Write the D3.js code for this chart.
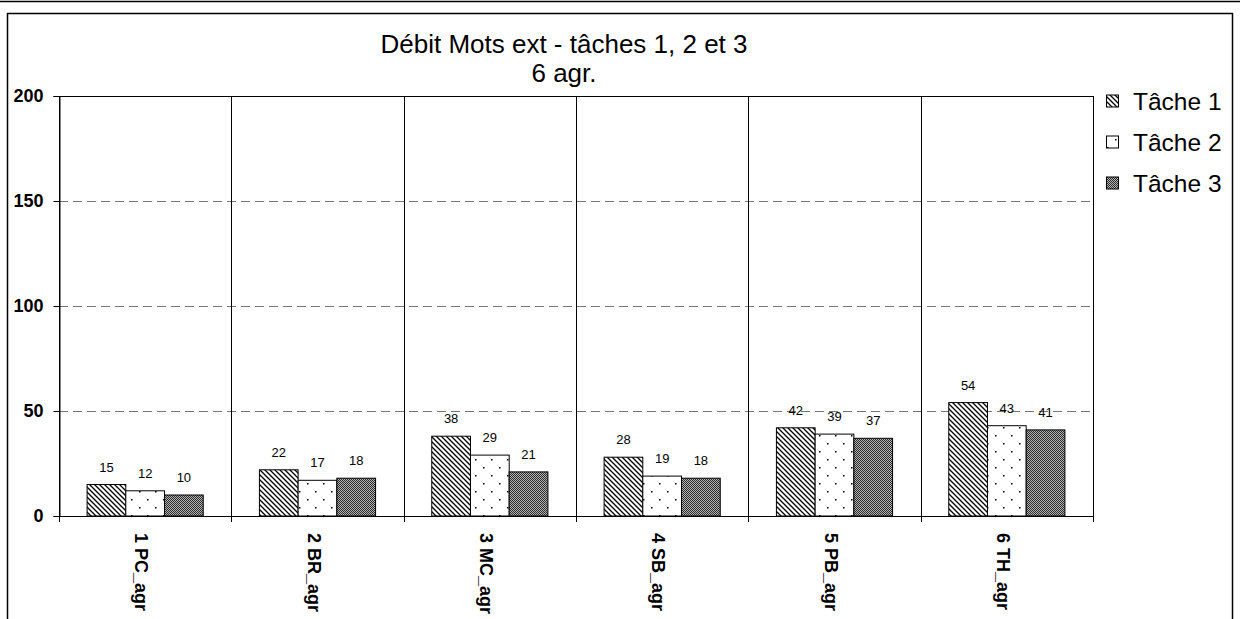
<!DOCTYPE html>
<html><head><meta charset="utf-8">
<script src="https://cdn.jsdelivr.net/npm/d3@7"></script>
<style>
html,body{margin:0;padding:0;background:#fff;}
text{font-family:Arial,"Liberation Sans",sans-serif;}
</style></head>
<body>
<svg id="chart" width="1240" height="619"></svg>
<script>
const categories = ["1 PC_agr","2 BR_agr","3 MC_agr","4 SB_agr","5 PB_agr","6 TH_agr"];
const seriesNames = ["Tâche 1","Tâche 2","Tâche 3"];
const tache1 = [15,22,38,28,42,54];
const tache2 = [12,17,29,19,39,43];
const tache3 = [10,18,21,18,37,41];
const yTicks = [0,50,100,150,200];
const titleLines = ["Débit Mots ext - tâches 1, 2 et 3","6 agr."];

const seriesValues = [tache1,tache2,tache3];
const svg = d3.select("#chart");
const W=1240,H=619;
const mLeft=59,mRight=1093,mTop=96,mBottom=516;

// patterns
const defs = svg.append("defs");
const p1 = defs.append("pattern").attr("id","pat0").attr("patternUnits","userSpaceOnUse").attr("width",5).attr("height",5);
p1.append("rect").attr("width",5).attr("height",5).attr("fill","#fff");
p1.append("path").attr("d","M-1,-1L6,6M-1,4L1,6M4,-1L6,1").attr("stroke","#000").attr("stroke-width",1.3);
const p2 = defs.append("pattern").attr("id","pat1").attr("patternUnits","userSpaceOnUse").attr("width",16).attr("height",16);
p2.append("rect").attr("width",16).attr("height",16).attr("fill","#fff");
p2.append("rect").attr("x",3).attr("y",3).attr("width",1.5).attr("height",1.5).attr("fill","#000");
p2.append("rect").attr("x",11).attr("y",11).attr("width",1.5).attr("height",1.5).attr("fill","#000");
const p3 = defs.append("pattern").attr("id","pat2").attr("patternUnits","userSpaceOnUse").attr("width",2).attr("height",2);
p3.append("rect").attr("width",2).attr("height",2).attr("fill","#b4b4b4");
p3.append("rect").attr("width",1).attr("height",1).attr("fill","#2a2a2a");
p3.append("rect").attr("x",1).attr("y",1).attr("width",1).attr("height",1).attr("fill","#2a2a2a");

// frames
svg.append("line").attr("x1",0).attr("x2",W).attr("y1",1.5).attr("y2",1.5).attr("stroke","#000").attr("stroke-width",1.5);
svg.append("rect").attr("x",7.5).attr("y",13.5).attr("width",1225).attr("height",640).attr("fill","none").attr("stroke","#000").attr("stroke-width",1.5);

const x = d3.scaleBand().domain(categories).range([mLeft,mRight]).paddingInner(0).paddingOuter(0);
const bw = x.bandwidth();
const xs = d3.scaleBand().domain(seriesNames).range([bw*0.163, bw*0.837]).padding(0);
const y = d3.scaleLinear().domain([0,200]).range([mBottom,mTop]);

// gridlines
svg.append("g").selectAll("line").data(yTicks.filter(t=>t>0 && t<200)).join("line")
  .attr("x1",mLeft).attr("x2",mRight).attr("y1",d=>Math.round(y(d))+0.5).attr("y2",d=>Math.round(y(d))+0.5)
  .attr("stroke","#777").attr("stroke-dasharray","9,5");
svg.append("line").attr("x1",mLeft).attr("x2",mRight).attr("y1",y(200)+0.5).attr("y2",y(200)+0.5).attr("stroke","#000");

// category separators
const seps = categories.map(c=>x(c)).concat([mRight]);
svg.append("g").selectAll("line").data(seps).join("line")
  .attr("x1",d=>Math.round(d)+0.5).attr("x2",d=>Math.round(d)+0.5)
  .attr("y1",mTop).attr("y2",mBottom+6).attr("stroke","#000");

// bars
const g = svg.append("g");
seriesNames.forEach((s,si)=>{
  g.append("g").selectAll("rect").data(categories).join("rect")
    .attr("x",(c)=>x(c)+xs(s))
    .attr("y",(c,i)=>y(seriesValues[si][i]))
    .attr("width",xs.bandwidth())
    .attr("height",(c,i)=>y(0)-y(seriesValues[si][i]))
    .attr("fill",`url(#pat${si})`).attr("stroke","#000").attr("stroke-width",1);
  g.append("g").selectAll("text").data(categories).join("text")
    .attr("x",c=>x(c)+xs(s)+xs.bandwidth()/2)
    .attr("y",(c,i)=>y(seriesValues[si][i])-13)
    .attr("text-anchor","middle").attr("font-size",13).attr("fill","#000")
    .text((c,i)=>seriesValues[si][i]);
});

// y axis
const yAxis = d3.axisLeft(y).tickValues(yTicks).tickSize(6).tickPadding(10);
const ya = svg.append("g").attr("transform",`translate(${mLeft+0.5},0)`).call(yAxis);
ya.select(".domain").attr("stroke","#000");
ya.selectAll("text").attr("font-size",18).attr("font-weight","bold").attr("fill","#000").attr("font-family","Arial, 'Liberation Sans', sans-serif");
// x axis line
svg.append("line").attr("x1",mLeft).attr("x2",mRight).attr("y1",mBottom+0.5).attr("y2",mBottom+0.5).attr("stroke","#000");

// x labels
svg.append("g").selectAll("text").data(categories).join("text")
  .attr("transform",c=>`translate(${x(c)+bw/2-4},533) rotate(90)`)
  .attr("dominant-baseline","central")
  .attr("font-size",18).attr("font-weight","bold").text(c=>c);

// title
svg.append("g").selectAll("text").data(titleLines).join("text")
  .attr("x",564).attr("y",(d,i)=>53+i*29)
  .attr("text-anchor","middle").attr("font-size",26).text(d=>d);

// legend
const lg = svg.append("g");
seriesNames.forEach((s,i)=>{
  const cy = 101 + i*41;
  lg.append("rect").attr("x",1106.5).attr("y",cy-6).attr("width",12).attr("height",12)
    .attr("fill",`url(#pat${i})`).attr("stroke","#000");
  lg.append("text").attr("x",1133).attr("y",cy).attr("dominant-baseline","central").attr("font-size",24.5).text(s);
});
</script>
</body></html>
